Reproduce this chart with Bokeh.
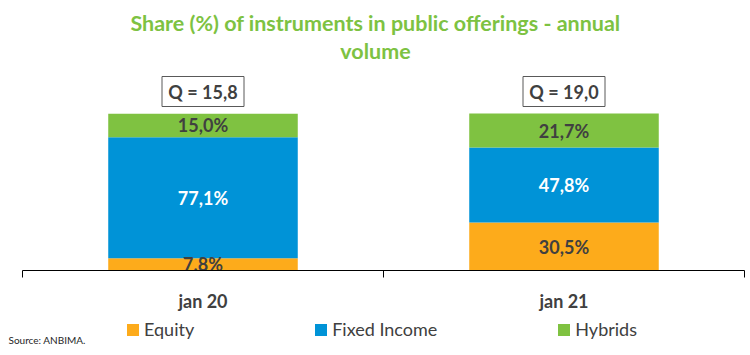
from bokeh.plotting import figure
from bokeh.layouts import column
from bokeh.models import ColumnDataSource, Range1d, FixedTicker, Legend, LegendItem
from bokeh.core.properties import value
from bokeh.embed import file_html
from bokeh.resources import INLINE

# ---- data ----
categories = ["jan 20", "jan 21"]
equity = [7.8, 30.5]
fixed_income = [77.1, 47.8]
hybrids = [15.0, 21.7]
q_totals = [15.8, 19.0]
series_names = ["Equity", "Fixed Income", "Hybrids"]
series_keys = ["equity", "fixed_income", "hybrids"]
colors = ["#FDAB1B", "#0093D7", "#7FC241"]
label_colors = ["#404040", "#FFFFFF", "#404040"]
title_lines = ["Share (%) of instruments in public offerings - annual", "volume"]
source_note = "Source: ANBIMA."

# ---- layout ----
W, H = 750, 355
TOP_H = 315
LEFT, RIGHT = 22, 6          # axis extent inside the canvas
BOTTOM = 45
frame_h = TOP_H - BOTTOM
n = len(categories)
CAT_PX = (W - LEFT - RIGHT) / n
Y_MAX = 172.0
FONT = "Lato"
DARK = "#404040"


def py(px):
    return (frame_h - px) / frame_h * Y_MAX


def px_x(px):
    return (px - LEFT) / CAT_PX


xs = [i + 0.5 for i in range(n)]
src = ColumnDataSource(dict(x=xs, equity=equity, fixed_income=fixed_income, hybrids=hybrids))

p = figure(width=W, height=TOP_H, x_range=Range1d(px_x(0), px_x(W)), y_range=Range1d(0, Y_MAX),
           output_backend="svg", toolbar_location=None, y_axis_location=None,
           min_border=0, min_border_left=0, min_border_right=0, min_border_top=0,
           min_border_bottom=BOTTOM)
p.outline_line_color = None
p.xgrid.visible = False
p.ygrid.visible = False

renderers = p.vbar_stack(series_keys, x="x", width=0.525, color=colors, line_color=None, source=src)

# segment labels
lx, ly, lt, lc = [], [], [], []
for i, x in enumerate(xs):
    base = 0.0
    for vals, col in zip([equity, fixed_income, hybrids], label_colors):
        v = vals[i]
        lx.append(x)
        ly.append(base + v / 2)
        lt.append(f"{v:.1f}%".replace(".", ","))
        lc.append(col)
        base += v
p.text(x="x", y="y", text="t", text_color="c",
       source=ColumnDataSource(dict(x=lx, y=ly, t=lt, c=lc)),
       text_font=value(FONT), text_font_style="bold", text_font_size="18px",
       text_align="center", text_baseline="middle")

# Q boxes
qy = py(91)
p.rect(x=xs, y=[qy] * n, width=82, height=30, width_units="screen", height_units="screen",
       fill_color=None, line_color="#595959", line_width=1)
p.text(x=xs, y=[qy] * n, text=[f"Q = {v:.1f}".replace(".", ",") for v in q_totals],
       text_font=value(FONT), text_font_style="bold", text_font_size="18px", text_color=DARK,
       text_align="center", text_baseline="middle")

# title
p.text(x=[px_x(375)] * 2, y=[py(22), py(50)], text=title_lines, text_align="center", text_baseline="middle",
       text_font=value(FONT), text_font_style="bold", text_font_size="21.5px", text_color="#7DC242")

# x axis
ax = p.xaxis[0]
ax.bounds = (0, n)
ax.ticker = FixedTicker(ticks=xs, minor_ticks=list(range(n + 1)))
ax.major_label_overrides = {x: c for x, c in zip(xs, categories)}
ax.major_tick_line_color = None
ax.major_tick_out = 0
ax.major_tick_in = 0
ax.minor_tick_out = 7
ax.minor_tick_in = 0
ax.minor_tick_line_color = "black"
ax.axis_line_color = "black"
ax.major_label_standoff = 12
ax.major_label_text_font = FONT
ax.major_label_text_font_style = "bold"
ax.major_label_text_font_size = "18px"
ax.major_label_text_color = DARK

# ---- bottom strip: legend + source ----
BOT_H = H - TOP_H
p2 = figure(width=W, height=BOT_H, x_range=Range1d(0, W), y_range=Range1d(0, BOT_H),
            output_backend="svg", toolbar_location=None, x_axis_location=None, y_axis_location=None,
            min_border=0, min_border_left=0, min_border_right=0, min_border_top=0, min_border_bottom=0)
p2.outline_line_color = None
p2.xgrid.visible = False
p2.ygrid.visible = False

nan = float("nan")
items = []
for name, c in zip(series_names, colors):
    r = p2.quad(left=[nan], right=[nan], top=[nan], bottom=[nan], fill_color=c, line_color=None)
    items.append(LegendItem(label=name, renderers=[r]))
legend = Legend(items=items, orientation="horizontal", location=(125, H - 340),
                padding=0, margin=0, spacing=119, glyph_width=15, glyph_height=15, label_standoff=4,
                label_height=20, label_text_font=FONT, label_text_font_size="18px", label_text_color=DARK,
                background_fill_alpha=0, border_line_color=None)
p2.add_layout(legend)

p2.text(x=[8], y=[H - 339], text=[source_note], text_baseline="middle", text_align="left",
        text_font=value(FONT), text_font_size="10px", text_color="#262626")

layout = column(p, p2, spacing=0)
open("out.html", "w").write(file_html(layout, INLINE))
